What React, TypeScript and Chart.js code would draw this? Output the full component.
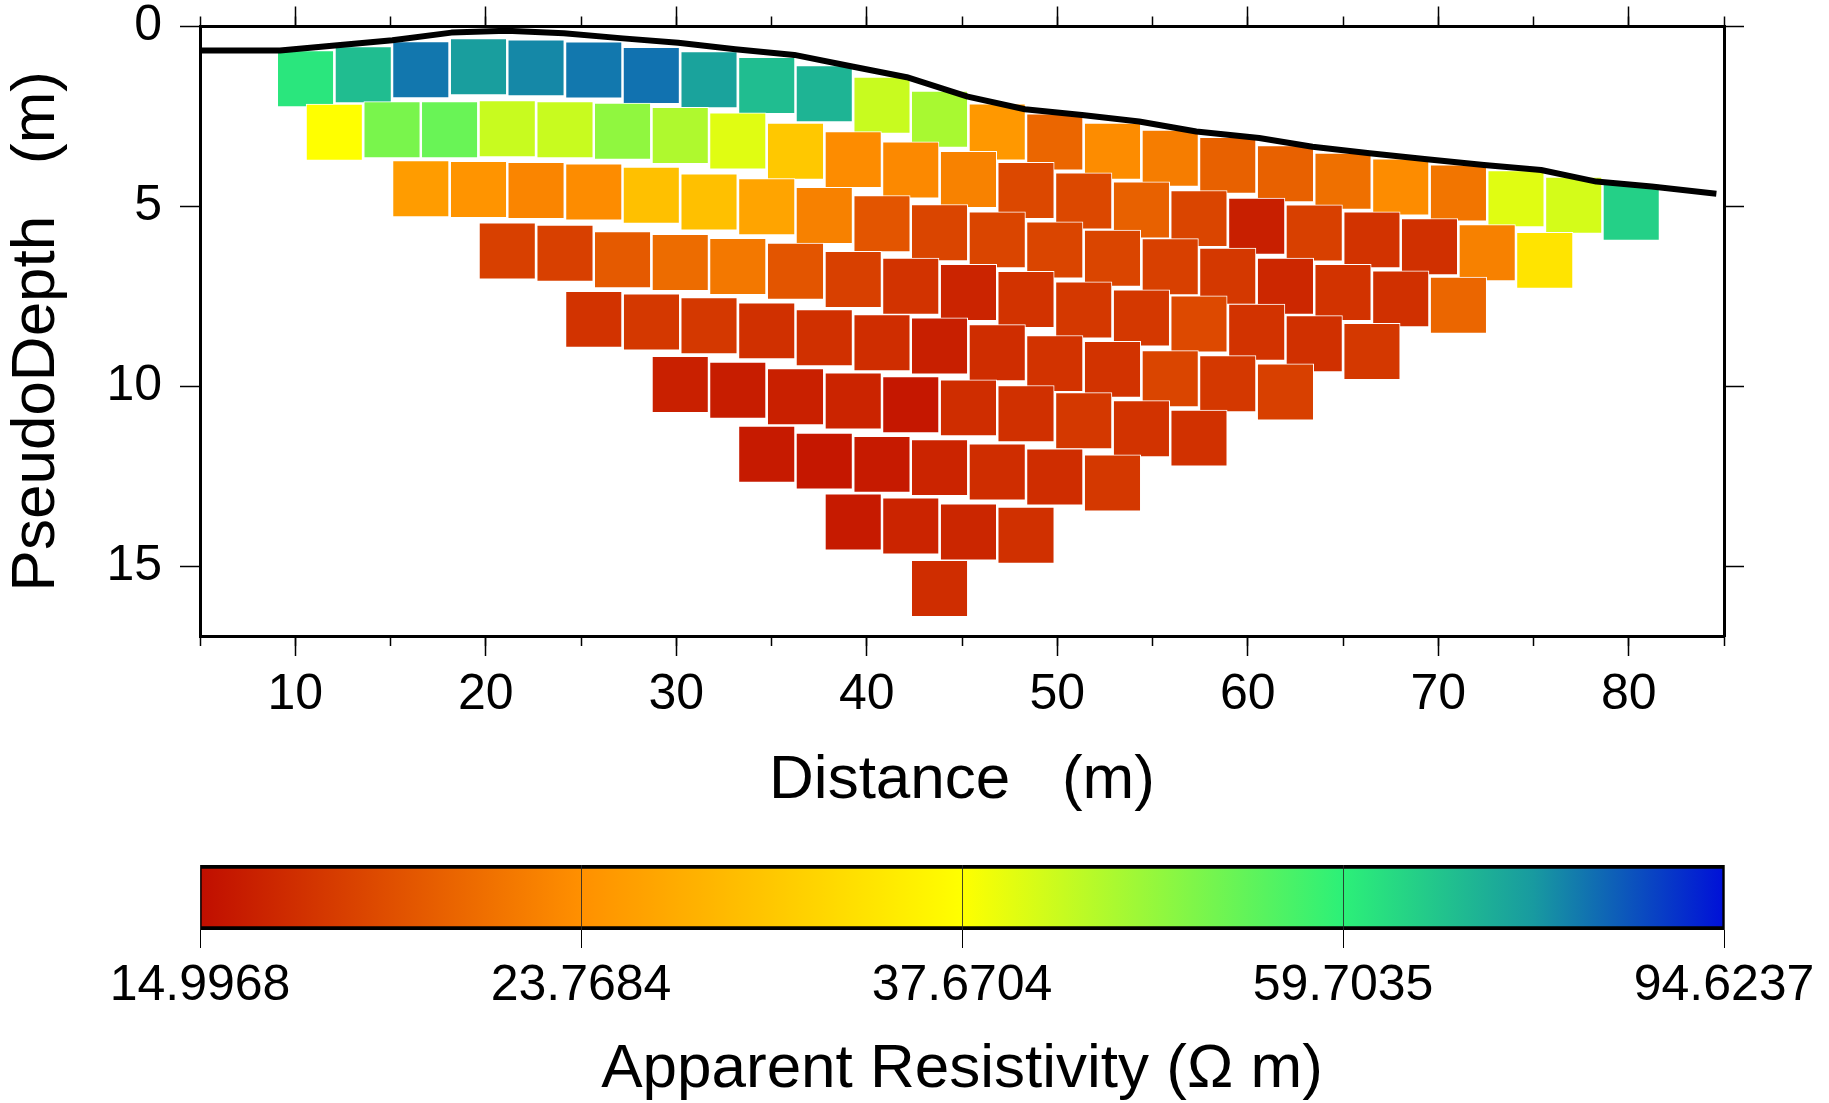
import React, { useEffect, useRef } from 'react';
import { Chart, registerables } from 'chart.js';

Chart.register(...registerables);

// ---------- axes ----------
const X_MIN = 5;
const X_MAX = 85;
const DEPTH_MIN = 0;
const DEPTH_MAX = 16.94;
const X_MAJOR_TICKS = [10, 20, 30, 40, 50, 60, 70, 80];
const X_MINOR_TICKS = [5, 10, 15, 20, 25, 30, 35, 40, 45, 50, 55, 60, 65, 70, 75, 80, 85];
const DEPTH_TICKS = [0, 5, 10, 15];
const RHO_MIN = 14.9968;
const RHO_MAX = 94.6237;
const RHO_TICKS = [14.9968, 23.7684, 37.6704, 59.7035, 94.6237];

// ---------- topography (distance m, depth m) ----------
const TOPO_X = [5, 9.2, 15.1, 18.2, 21.1, 24.1, 27.2, 30.1, 33.1, 36.2, 39.3, 42.1, 45.3, 48.3, 51.3, 54.3, 57.3, 60.6, 63.4, 66.4, 69.4, 72.4, 75.4, 78.3, 81.2, 84.6];
const TOPO_D = [0.67, 0.67, 0.38, 0.17, 0.12, 0.19, 0.33, 0.45, 0.63, 0.79, 1.12, 1.41, 1.95, 2.3, 2.46, 2.64, 2.92, 3.1, 3.34, 3.52, 3.69, 3.85, 3.99, 4.31, 4.45, 4.65];

// ---------- pseudosection levels: x (m), pseudo-depth (m), apparent resistivity (ohm m) ----------
const L1_X = [10.54, 13.57, 16.59, 19.62, 22.64, 25.67, 28.69, 31.72, 34.75, 37.77, 40.8, 43.82, 46.85, 49.87, 52.9, 55.93, 58.95, 61.98, 65.0, 68.03, 71.06, 74.08, 77.11, 80.13];
const L1_D = [1.45, 1.34, 1.2, 1.12, 1.15, 1.21, 1.36, 1.48, 1.64, 1.87, 2.19, 2.58, 2.93, 3.21, 3.47, 3.66, 3.86, 4.09, 4.3, 4.46, 4.63, 4.79, 4.97, 5.16];
const L1_RHO = [61.4, 68.4, 79.7, 74.3, 77.4, 79.6, 80.3, 73.4, 68.4, 70.1, 42.5, 45.5, 24.6, 20.5, 23.4, 22.2, 20.1, 20.1, 21.2, 23.4, 21.6, 40.3, 41.4, 65.1];

const L2_X = [12.05, 15.08, 18.1, 21.13, 24.16, 27.18, 30.21, 33.23, 36.26, 39.29, 42.31, 45.34, 48.36, 51.39, 54.42, 57.44, 60.47, 63.49, 66.52, 69.54, 72.57, 75.59];
const L2_D = [2.94, 2.87, 2.87, 2.84, 2.87, 2.91, 3.03, 3.18, 3.47, 3.7, 3.99, 4.25, 4.56, 4.85, 5.1, 5.34, 5.55, 5.74, 5.93, 6.12, 6.29, 6.5];
const L2_RHO = [37.7, 50.5, 52.3, 42.5, 42.5, 48.0, 44.9, 40.3, 30.0, 23.4, 23.2, 22.6, 18.4, 18.4, 20.1, 18.2, 15.9, 17.9, 17.1, 16.9, 22.5, 33.7];

const L3_X = [16.59, 19.62, 22.64, 25.67, 28.69, 31.72, 34.75, 37.77, 40.8, 43.82, 46.85, 49.87, 52.9, 55.93, 58.95, 61.98, 65.0, 68.03, 71.06];
const L3_D = [4.51, 4.53, 4.56, 4.6, 4.69, 4.88, 5.01, 5.25, 5.48, 5.73, 5.93, 6.21, 6.44, 6.68, 6.94, 7.22, 7.39, 7.57, 7.75];
const L3_RHO = [25.0, 24.2, 22.9, 23.4, 29.0, 29.0, 25.8, 22.5, 19.3, 18.2, 18.2, 18.2, 18.2, 17.9, 17.4, 16.4, 17.1, 16.9, 20.5];

const L4_X = [21.13, 24.16, 27.18, 30.21, 33.23, 36.26, 39.29, 42.31, 45.34, 48.36, 51.39, 54.42, 57.44, 60.47, 63.49, 66.52];
const L4_D = [6.24, 6.3, 6.48, 6.56, 6.67, 6.8, 7.03, 7.22, 7.39, 7.59, 7.88, 8.1, 8.27, 8.5, 8.82, 9.03];
const L4_RHO = [17.9, 17.9, 19.6, 20.9, 21.8, 19.3, 17.9, 17.1, 16.2, 17.1, 17.4, 17.4, 18.5, 17.1, 16.9, 17.4];

const L5_X = [25.67, 28.7, 31.72, 34.75, 37.77, 40.8, 43.82, 46.85, 49.87, 52.9, 55.93, 58.95, 61.98];
const L5_D = [8.14, 8.21, 8.32, 8.46, 8.65, 8.79, 8.88, 9.07, 9.37, 9.53, 9.79, 9.93, 10.16];
const L5_RHO = [17.1, 17.4, 17.4, 16.9, 16.9, 16.75, 15.9, 16.75, 17.1, 17.1, 18.2, 17.4, 17.9];

const L6_X = [30.21, 33.23, 36.26, 39.29, 42.31, 45.34, 48.36, 51.39, 54.42, 57.44];
const L6_D = [9.95, 10.11, 10.29, 10.41, 10.51, 10.6, 10.76, 10.96, 11.18, 11.44];
const L6_RHO = [16.0, 15.8, 16.0, 16.2, 15.5, 16.75, 16.9, 17.4, 17.1, 17.0];

const L7_X = [34.75, 37.77, 40.8, 43.82, 46.85, 49.87, 52.9];
const L7_D = [11.89, 12.08, 12.17, 12.26, 12.38, 12.52, 12.69];
const L7_RHO = [15.65, 15.5, 15.65, 16.2, 16.75, 16.75, 17.4];

const L8_X = [39.29, 42.31, 45.34, 48.36];
const L8_D = [13.77, 13.88, 14.05, 14.14];
const L8_RHO = [15.65, 16.2, 16.3, 16.9];

const L9_X = [43.82];
const L9_D = [15.62];
const L9_RHO = [16.75];

// ---------- style ----------
const FONT = "'Liberation Sans', Arial, Helvetica, sans-serif";
const CELL_W = 2.96; // m
const CELL_H = 1.565; // m
const CMAP_POS = [0, 0.25, 0.5, 0.75, 0.875, 1];
const CMAP_RGB = [
  [192, 14, 0],
  [255, 144, 0],
  [255, 255, 0],
  [44, 240, 120],
  [24, 154, 160],
  [0, 16, 216],
];

function rhoColor(v: number): string {
  let f = (Math.log(v) - Math.log(RHO_MIN)) / (Math.log(RHO_MAX) - Math.log(RHO_MIN));
  f = Math.max(0, Math.min(1, f));
  let i = 0;
  while (i < CMAP_POS.length - 2 && f > CMAP_POS[i + 1]) i++;
  const t = (f - CMAP_POS[i]) / (CMAP_POS[i + 1] - CMAP_POS[i]);
  const a = CMAP_RGB[i];
  const b = CMAP_RGB[i + 1];
  const c = a.map((av, k) => Math.round(av + (b[k] - av) * t));
  return `rgb(${c[0]},${c[1]},${c[2]})`;
}

const LEVELS: [number[], number[], number[]][] = [
  [L1_X, L1_D, L1_RHO],
  [L2_X, L2_D, L2_RHO],
  [L3_X, L3_D, L3_RHO],
  [L4_X, L4_D, L4_RHO],
  [L5_X, L5_D, L5_RHO],
  [L6_X, L6_D, L6_RHO],
  [L7_X, L7_D, L7_RHO],
  [L8_X, L8_D, L8_RHO],
  [L9_X, L9_D, L9_RHO],
];

const noPad = (s: any) => {
  s.paddingLeft = 0;
  s.paddingRight = 0;
  s.paddingTop = 0;
  s.paddingBottom = 0;
};

function mainConfig(): any {
  const cells = LEVELS.flatMap(([xs, ds, rs]) => xs.map((x, i) => ({ x, d: ds[i], rho: rs[i] })));
  const tickFont = { family: FONT, size: 50 };
  const titleFont = { family: FONT, size: 62, lineHeight: 1 };
  const hAxis = (position: string, ticksArr: number[], len: number, height: number, weight: number, border: boolean, extra: any = {}) => ({
    type: 'linear',
    position,
    min: X_MIN,
    max: X_MAX,
    offset: false,
    weight,
    afterBuildTicks: (s: any) => {
      s.ticks = ticksArr.map((v) => ({ value: v }));
    },
    afterFit: (s: any) => {
      s.height = height;
      noPad(s);
    },
    grid: { display: true, drawOnChartArea: false, drawTicks: true, tickLength: len, tickColor: '#000', tickWidth: 1.5, offset: false },
    border: { display: border, color: '#000', width: 3 },
    ticks: { display: false },
    ...extra,
  });
  return {
    type: 'bar',
    data: {
      datasets: [
        {
          type: 'line',
          data: TOPO_X.map((x, i) => ({ x, y: TOPO_D[i] })),
          borderColor: '#000',
          borderWidth: 6,
          pointRadius: 0,
          fill: false,
          tension: 0,
          borderJoinStyle: 'round',
          order: 0,
          xAxisID: 'x',
          yAxisID: 'y',
        },
        {
          type: 'bar',
          data: cells.map((c) => ({ x: c.x, y: [c.d - CELL_H / 2, c.d + CELL_H / 2] })),
          backgroundColor: cells.map((c) => rhoColor(c.rho)),
          borderColor: '#ffffff',
          borderWidth: 1,
          borderSkipped: false,
          barThickness: 56,
          order: 1,
          xAxisID: 'x',
          yAxisID: 'y',
        },
      ],
    },
    options: {
      animation: false,
      responsive: false,
      maintainAspectRatio: false,
      devicePixelRatio: 1,
      layout: { padding: 0, autoPadding: false },
      plugins: { legend: { display: false }, tooltip: { enabled: false } },
      scales: {
        xMinor: hAxis('bottom', X_MINOR_TICKS, 10, 0, 0, false),
        x: hAxis('bottom', X_MAJOR_TICKS, 20, 204, 1, true, {
          ticks: { display: true, font: tickFont, color: '#000', padding: 9, autoSkip: false, maxRotation: 0 },
          title: { display: true, text: 'Distance   (m)', font: titleFont, color: '#000', padding: { top: 0, bottom: 28 } },
        }),
        x2Minor: hAxis('top', X_MINOR_TICKS, 10, 0, 0, false),
        x2: hAxis('top', X_MAJOR_TICKS, 20, 26.5, 1, true),
        y: {
          type: 'linear',
          position: 'left',
          min: DEPTH_MIN,
          max: DEPTH_MAX,
          reverse: true,
          afterBuildTicks: (s: any) => {
            s.ticks = DEPTH_TICKS.map((v) => ({ value: v }));
          },
          afterFit: (s: any) => {
            s.width = 200;
            noPad(s);
          },
          grid: { display: true, drawOnChartArea: false, drawTicks: true, tickLength: 20, tickColor: '#000', tickWidth: 1.5 },
          border: { display: true, color: '#000', width: 3 },
          ticks: { font: tickFont, color: '#000', padding: 18, autoSkip: false },
          title: { display: true, text: 'PseudoDepth   (m)', font: titleFont, color: '#000', padding: { top: 5.5, bottom: 0 } },
        },
        y2: {
          type: 'linear',
          position: 'right',
          min: DEPTH_MIN,
          max: DEPTH_MAX,
          reverse: true,
          afterBuildTicks: (s: any) => {
            s.ticks = DEPTH_TICKS.map((v) => ({ value: v }));
          },
          afterFit: (s: any) => {
            s.width = 105;
            noPad(s);
          },
          grid: { display: true, drawOnChartArea: false, drawTicks: true, tickLength: 20, tickColor: '#000', tickWidth: 1.5 },
          border: { display: true, color: '#000', width: 3 },
          ticks: { display: false },
        },
      },
    },
  };
}

function colorbarConfig(): any {
  return {
    type: 'bar',
    data: {
      labels: ['rho'],
      datasets: [
        {
          data: [[RHO_MIN, RHO_MAX]],
          backgroundColor: (ctx: any) => {
            const area = ctx.chart.chartArea;
            if (!area) return '#888';
            const g = ctx.chart.ctx.createLinearGradient(area.left, 0, area.right, 0);
            CMAP_POS.forEach((p, i) => {
              const c = CMAP_RGB[i];
              g.addColorStop(p, `rgb(${c[0]},${c[1]},${c[2]})`);
            });
            return g;
          },
          borderColor: '#000',
          borderWidth: { top: 4, bottom: 4, left: 2, right: 2 },
          borderSkipped: false,
          barPercentage: 1,
          categoryPercentage: 1,
        },
      ],
    },
    options: {
      indexAxis: 'y',
      animation: false,
      responsive: false,
      maintainAspectRatio: false,
      devicePixelRatio: 1,
      layout: { padding: { left: 200, right: 105, top: 25, bottom: 0 }, autoPadding: false },
      plugins: { legend: { display: false }, tooltip: { enabled: false } },
      scales: {
        x: {
          type: 'logarithmic',
          position: 'bottom',
          min: RHO_MIN,
          max: RHO_MAX,
          afterBuildTicks: (s: any) => {
            s.ticks = RHO_TICKS.map((v) => ({ value: v }));
          },
          afterFit: (s: any) => {
            s.height = 173;
            noPad(s);
          },
          grid: { display: true, drawOnChartArea: true, z: 1, color: 'rgba(40,40,40,0.85)', lineWidth: 1, drawTicks: true, tickLength: 18, tickColor: '#000', tickWidth: 1 },
          border: { display: false },
          ticks: {
            callback: (v: any) => Number(v).toFixed(4),
            font: { family: FONT, size: 50 },
            color: '#000',
            padding: 8,
            autoSkip: false,
            maxRotation: 0,
          },
          title: { display: true, text: 'Apparent Resistivity (Ω m)', font: { family: FONT, size: 62, lineHeight: 1 }, color: '#000', padding: { top: 0, bottom: 2 } },
        },
        y: { display: false },
      },
    },
  };
}

export default function App() {
  const mainRef = useRef<HTMLCanvasElement>(null);
  const cbRef = useRef<HTMLCanvasElement>(null);

  useEffect(() => {
    const main = new Chart(mainRef.current as HTMLCanvasElement, mainConfig());
    const xs: any = main.scales.x;
    const w = xs.getPixelForValue(X_MIN + CELL_W) - xs.getPixelForValue(X_MIN);
    (main.data.datasets[1] as any).barThickness = w;
    main.update();
    const cb = new Chart(cbRef.current as HTMLCanvasElement, colorbarConfig());
    return () => {
      main.destroy();
      cb.destroy();
    };
  }, []);

  return (
    <div style={{ position: 'fixed', left: 0, top: 0, width: 1829, height: 1103, background: '#fff', overflow: 'hidden' }}>
      <canvas ref={mainRef} width={1829} height={840} style={{ position: 'absolute', left: 0, top: 0, width: 1829, height: 840 }} />
      <canvas ref={cbRef} width={1829} height={263} style={{ position: 'absolute', left: 0, top: 840, width: 1829, height: 263 }} />
    </div>
  );
}
